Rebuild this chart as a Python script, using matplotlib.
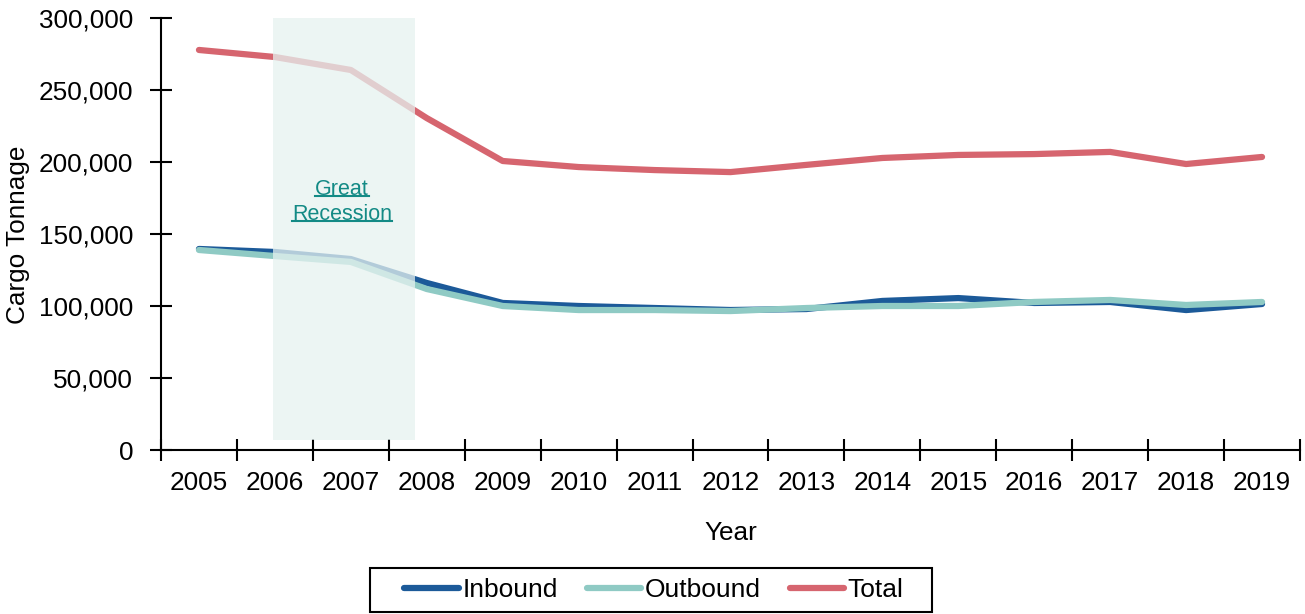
import matplotlib
matplotlib.use("Agg")
from matplotlib import pyplot as plt
from matplotlib.lines import Line2D
from matplotlib.patches import Rectangle
from matplotlib.ticker import FuncFormatter, FixedLocator
import numpy as np

plt.rcParams["font.family"] = ["Liberation Sans", "DejaVu Sans"]

years = ["2005", "2006", "2007", "2008", "2009", "2010", "2011", "2012",
         "2013", "2014", "2015", "2016", "2017", "2018", "2019"]
inbound = [139600, 137500, 132600, 116000, 102100, 100000, 98600, 97200,
           97900, 103500, 105500, 102100, 102800, 97200, 101400]
outbound = [138900, 134700, 130600, 111800, 100000, 97200, 97200, 96500,
            98600, 100000, 100000, 102800, 104200, 100700, 102800]
total = [277800, 272900, 263900, 230500, 200700, 196500, 194400, 193000,
         198000, 202800, 204900, 205500, 207000, 198600, 203500]

# recession band, in category units and tonnage
band_x = (0.975, 2.846)
band_y = (6900, 301400)

W, H = 1305, 614
fig = plt.figure(figsize=(W / 100, H / 100), dpi=100)
ax = fig.add_axes([161 / W, 1 - 450 / H, 1139 / W, 432 / H])

x = np.arange(len(years))
lw = 4.5
ax.plot(x, inbound, color="#1c5a99", lw=lw, solid_capstyle="round", label="Inbound", zorder=3)
ax.plot(x, outbound, color="#8fcac4", lw=lw, solid_capstyle="round", label="Outbound", zorder=3)
ax.plot(x, total, color="#d6656f", lw=lw, solid_capstyle="round", label="Total", zorder=3)

# translucent shading sits on top of the lines so they fade inside it
ax.fill_between(band_x, band_y[0], band_y[1], color=(0.90, 0.948, 0.942),
                alpha=0.75, lw=0, zorder=4)

ax.set_xlim(-0.5, len(years) - 0.5)
ax.set_ylim(0, 300000)

for s in ["top", "right"]:
    ax.spines[s].set_visible(False)
for s in ["left", "bottom"]:
    ax.spines[s].set_linewidth(1.5)

fs = 18.8
ax.set_xticks(x)
ax.set_xticklabels(years)
ax.xaxis.set_minor_locator(FixedLocator(np.arange(-0.5, len(years), 1.0)))
ax.tick_params(axis="x", which="major", length=0, pad=15, labelsize=fs)
ax.tick_params(axis="x", which="minor", direction="inout", length=16, width=1.5)

ax.set_yticks(np.arange(0, 300001, 50000))
ax.yaxis.set_major_formatter(FuncFormatter(lambda v, p: f"{int(v):,}"))
ax.tick_params(axis="y", direction="inout", length=16, width=1.5, pad=12, labelsize=fs)

ax.set_ylabel("Cargo Tonnage", fontsize=fs, va="center")
ax.yaxis.set_label_coords(-0.1256, 0.4986)
ax.set_xlabel("Year", fontsize=fs, va="baseline")
ax.xaxis.set_label_coords(0.5, -0.2083)

teal = "#138a85"
labels = [ax.text(1.884, 181200, "Great", color=teal, fontsize=15.5, ha="center", va="center", zorder=5),
          ax.text(1.884, 163600, "Recession", color=teal, fontsize=15.5, ha="center", va="center", zorder=5)]

leg = fig.legend(loc="center", bbox_to_anchor=(654 / W, 1 - 590 / H), ncol=3, fontsize=19,
                 frameon=False, handlelength=2.07, handletextpad=0.13, columnspacing=1.1)
for h in leg.legend_handles:
    h.set_solid_capstyle("round")
fig.add_artist(Rectangle((370 / W, 1 - 612 / H), 562 / W, 44 / H, transform=fig.transFigure,
                         fill=False, edgecolor="black", lw=1.5))

# underline the band labels
fig.canvas.draw()
r = fig.canvas.get_renderer()
for t in labels:
    bb = t.get_window_extent(r).transformed(fig.transFigure.inverted())
    yl = bb.y0 + 3.5 / H
    fig.add_artist(Line2D([bb.x0, bb.x1], [yl, yl], color=teal, lw=1.5))

fig.savefig("out.png", dpi=100)
